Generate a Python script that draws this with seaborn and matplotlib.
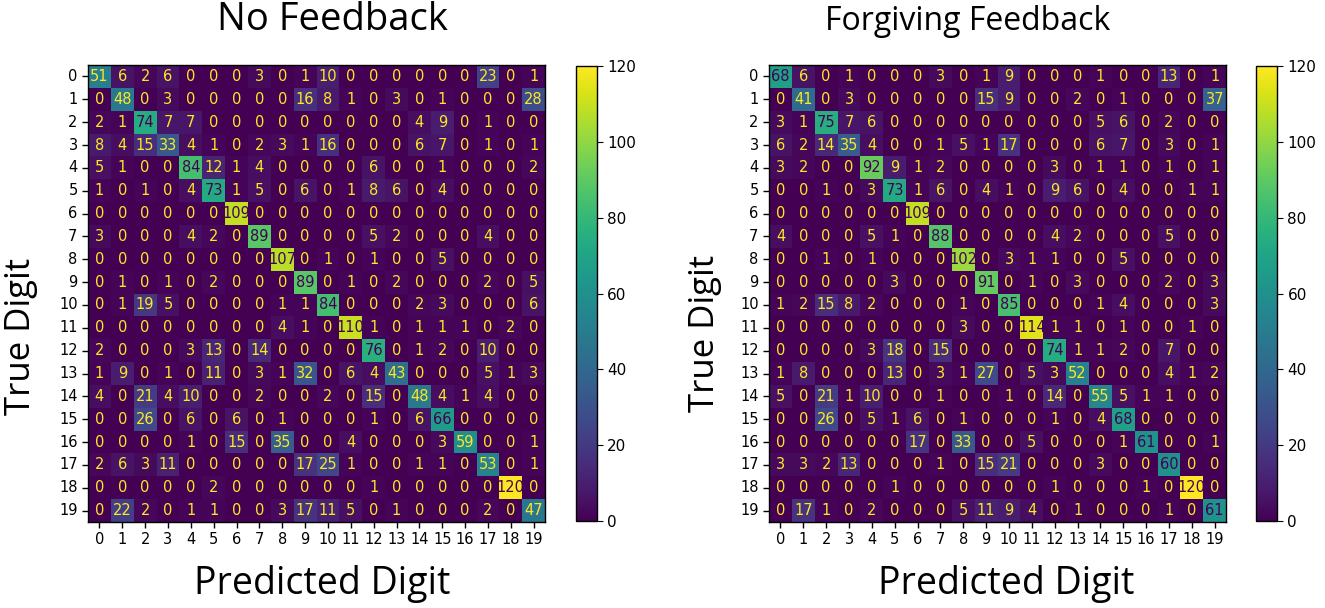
import numpy as np
import pandas as pd
import matplotlib
matplotlib.use('Agg')
import matplotlib.pyplot as plt
import seaborn as sns

# digit classes 0..19
digits = list(range(20))

# confusion matrix, no feedback (rows = true digit, cols = predicted digit)
no_feedback = [
    [51, 6, 2, 6, 0, 0, 0, 3, 0, 1, 10, 0, 0, 0, 0, 0, 0, 23, 0, 1],
    [0, 48, 0, 3, 0, 0, 0, 0, 0, 16, 8, 1, 0, 3, 0, 1, 0, 0, 0, 28],
    [2, 1, 74, 7, 7, 0, 0, 0, 0, 0, 0, 0, 0, 0, 4, 9, 0, 1, 0, 0],
    [8, 4, 15, 33, 4, 1, 0, 2, 3, 1, 16, 0, 0, 0, 6, 7, 0, 1, 0, 1],
    [5, 1, 0, 0, 84, 12, 1, 4, 0, 0, 0, 0, 6, 0, 0, 1, 0, 0, 0, 2],
    [1, 0, 1, 0, 4, 73, 1, 5, 0, 6, 0, 1, 8, 6, 0, 4, 0, 0, 0, 0],
    [0, 0, 0, 0, 0, 0, 109, 0, 0, 0, 0, 0, 0, 0, 0, 0, 0, 0, 0, 0],
    [3, 0, 0, 0, 4, 2, 0, 89, 0, 0, 0, 0, 5, 2, 0, 0, 0, 4, 0, 0],
    [0, 0, 0, 0, 0, 0, 0, 0, 107, 0, 1, 0, 1, 0, 0, 5, 0, 0, 0, 0],
    [0, 1, 0, 1, 0, 2, 0, 0, 0, 89, 0, 1, 0, 2, 0, 0, 0, 2, 0, 5],
    [0, 1, 19, 5, 0, 0, 0, 0, 1, 1, 84, 0, 0, 0, 2, 3, 0, 0, 0, 6],
    [0, 0, 0, 0, 0, 0, 0, 0, 4, 1, 0, 110, 1, 0, 1, 1, 1, 0, 2, 0],
    [2, 0, 0, 0, 3, 13, 0, 14, 0, 0, 0, 0, 76, 0, 1, 2, 0, 10, 0, 0],
    [1, 9, 0, 1, 0, 11, 0, 3, 1, 32, 0, 6, 4, 43, 0, 0, 0, 5, 1, 3],
    [4, 0, 21, 4, 10, 0, 0, 2, 0, 0, 2, 0, 15, 0, 48, 4, 1, 4, 0, 0],
    [0, 0, 26, 0, 6, 0, 6, 0, 1, 0, 0, 0, 1, 0, 6, 66, 0, 0, 0, 0],
    [0, 0, 0, 0, 1, 0, 15, 0, 35, 0, 0, 4, 0, 0, 0, 3, 59, 0, 0, 1],
    [2, 6, 3, 11, 0, 0, 0, 0, 0, 17, 25, 1, 0, 0, 1, 1, 0, 53, 0, 1],
    [0, 0, 0, 0, 0, 2, 0, 0, 0, 0, 0, 0, 1, 0, 0, 0, 0, 0, 120, 0],
    [0, 22, 2, 0, 1, 1, 0, 0, 3, 17, 11, 5, 0, 1, 0, 0, 0, 2, 0, 47],
]

# confusion matrix, forgiving feedback
forgiving = [
    [68, 6, 0, 1, 0, 0, 0, 3, 0, 1, 9, 0, 0, 0, 1, 0, 0, 13, 0, 1],
    [0, 41, 0, 3, 0, 0, 0, 0, 0, 15, 9, 0, 0, 2, 0, 1, 0, 0, 0, 37],
    [3, 1, 75, 7, 6, 0, 0, 0, 0, 0, 0, 0, 0, 0, 5, 6, 0, 2, 0, 0],
    [6, 2, 14, 35, 4, 0, 0, 1, 5, 1, 17, 0, 0, 0, 6, 7, 0, 3, 0, 1],
    [3, 2, 0, 0, 92, 9, 1, 2, 0, 0, 0, 0, 3, 0, 1, 1, 0, 1, 0, 1],
    [0, 0, 1, 0, 3, 73, 1, 6, 0, 4, 1, 0, 9, 6, 0, 4, 0, 0, 1, 1],
    [0, 0, 0, 0, 0, 0, 109, 0, 0, 0, 0, 0, 0, 0, 0, 0, 0, 0, 0, 0],
    [4, 0, 0, 0, 5, 1, 0, 88, 0, 0, 0, 0, 4, 2, 0, 0, 0, 5, 0, 0],
    [0, 0, 1, 0, 1, 0, 0, 0, 102, 0, 3, 1, 1, 0, 0, 5, 0, 0, 0, 0],
    [0, 0, 0, 0, 0, 3, 0, 0, 0, 91, 0, 1, 0, 3, 0, 0, 0, 2, 0, 3],
    [1, 2, 15, 8, 2, 0, 0, 0, 1, 0, 85, 0, 0, 0, 1, 4, 0, 0, 0, 3],
    [0, 0, 0, 0, 0, 0, 0, 0, 3, 0, 0, 114, 1, 1, 0, 1, 0, 0, 1, 0],
    [0, 0, 0, 0, 3, 18, 0, 15, 0, 0, 0, 0, 74, 1, 1, 2, 0, 7, 0, 0],
    [1, 8, 0, 0, 0, 13, 0, 3, 1, 27, 0, 5, 3, 52, 0, 0, 0, 4, 1, 2],
    [5, 0, 21, 1, 10, 0, 0, 1, 0, 0, 1, 0, 14, 0, 55, 5, 1, 1, 0, 0],
    [0, 0, 26, 0, 5, 1, 6, 0, 1, 0, 0, 0, 1, 0, 4, 68, 0, 0, 0, 0],
    [0, 0, 0, 0, 0, 0, 17, 0, 33, 0, 0, 5, 0, 0, 0, 1, 61, 0, 0, 1],
    [3, 3, 2, 13, 0, 0, 0, 1, 0, 15, 21, 0, 0, 0, 3, 0, 0, 60, 0, 0],
    [0, 0, 0, 0, 0, 1, 0, 0, 0, 0, 0, 0, 1, 0, 0, 0, 1, 0, 120, 0],
    [0, 17, 1, 0, 2, 0, 0, 0, 5, 11, 9, 4, 0, 1, 0, 0, 0, 1, 0, 61],
]

titles = ['No Feedback', 'Forgiving Feedback']
xlabel = 'Predicted Digit'
ylabel = 'True Digit'

fig = plt.figure(figsize=(13.25, 6.08), dpi=100)
cmap = plt.get_cmap('viridis')
vmin, vmax = 0, 120

# axes left, colorbar left, title x, title size, xlabel x, ylabel (x, y)
layout = [
    (0.0664, 0.4347, 0.536, 27.5, 0.513, (-0.109, 0.407)),
    (0.5804, 0.948, 0.434, 23, 0.518, (-0.102, 0.413)),
]
for (axl, cbl, tx, tsize, lx, ycoord), mat, title in zip(layout, [no_feedback, forgiving], titles):
    ax = fig.add_axes([axl, 0.1414, 0.345, 0.7516])
    cax = fig.add_axes([cbl, 0.143, 0.0158, 0.748])
    df = pd.DataFrame(mat, index=digits, columns=digits)
    sns.heatmap(df, ax=ax, cbar_ax=cax, cmap=cmap, vmin=vmin, vmax=vmax,
                annot=True, fmt='d', annot_kws={'fontsize': 10.5})
    # sklearn style text colours: yellow on dark cells, purple on light cells
    thresh = (vmax + vmin) / 2
    for txt in ax.texts:
        v = int(txt.get_text())
        txt.set_color(cmap(1.0) if v < thresh else cmap(0.0))
    for s in ax.spines.values():
        s.set_visible(True)
        s.set_color('black')
        s.set_linewidth(1)
    ax.tick_params(axis='both', labelsize=10.5, length=4, width=1)
    ax.set_yticklabels(digits, rotation=0)
    ax.set_xticklabels(digits, rotation=0)
    ax.set_title(title, fontsize=tsize, pad=25, family='Open Sans')
    ax.title.set_x(tx)
    ax.set_xlabel(xlabel, fontsize=27, family='Open Sans')
    ax.xaxis.set_label_coords(lx, -0.094)
    ax.set_ylabel(ylabel, fontsize=25, family='Open Sans')
    ax.yaxis.set_label_coords(*ycoord)
    cb = ax.collections[0].colorbar
    cb.outline.set_visible(True)
    cb.outline.set_linewidth(1)
    cb.outline.set_edgecolor('black')
    cb.set_ticks([0, 20, 40, 60, 80, 100, 120])
    cax.tick_params(labelsize=11, length=4)

fig.savefig('out.png', dpi=100)
